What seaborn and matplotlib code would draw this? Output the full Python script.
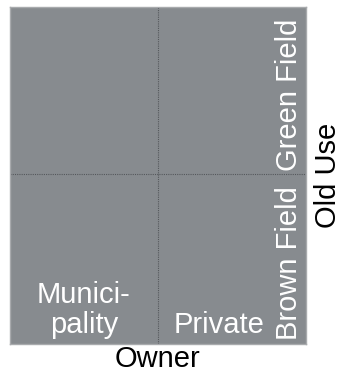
import matplotlib
matplotlib.use("Agg")
import matplotlib.pyplot as plt
from matplotlib.colors import ListedColormap
import seaborn as sns
import pandas as pd

owner = ["Municipality", "Private"]
owner_labels = ["Munici-\npality", "Private"]
old_use = ["Green Field", "Brown Field"]  # top to bottom
cell_values = [[1, 1], [1, 1]]

sns.set_style("white")
plt.rcParams["font.family"] = ["Liberation Sans", "DejaVu Sans"]

df = pd.DataFrame(cell_values, index=old_use, columns=owner)

fig = plt.figure(figsize=(3.43, 3.76), dpi=100)
ax = fig.add_axes([10/343, (376-344)/376, 295.5/343, 337/376])
sns.heatmap(df, ax=ax, cmap=ListedColormap(["#878b8f"]), cbar=False,
            linewidths=0, xticklabels=False, yticklabels=False)

ax.axvline(1, color="#55585c", lw=0.8, ls=(0, (1, 1)))
ax.axhline(0.99, color="#55585c", lw=0.8, ls=(0, (1, 1)))

for s in ax.spines.values():
    s.set_visible(True)
    s.set_color("#a8aaad")
    s.set_linewidth(1)

fs = 21
# owner labels at bottom of each column
ax.text(0.5, 1.972, owner_labels[0], color="white", fontsize=fs, ha="center",
        va="bottom", linespacing=1.12)
ax.text(1.72, 1.97, owner_labels[1], color="white", fontsize=fs, ha="right",
        va="bottom")
# old use labels on right side of each row
for i, lab in enumerate(old_use):
    ax.text(1.985, i + 0.975, lab, color="white", fontsize=fs, ha="left",
            va="bottom", rotation=90, rotation_mode="anchor")

ax.set_xlabel("Owner", fontsize=fs, labelpad=1, color="black")
ax.set_ylabel("Old Use", fontsize=fs, labelpad=6, rotation=90, color="black")
ax.yaxis.set_label_position("right")

fig.savefig("out.png", dpi=100)
